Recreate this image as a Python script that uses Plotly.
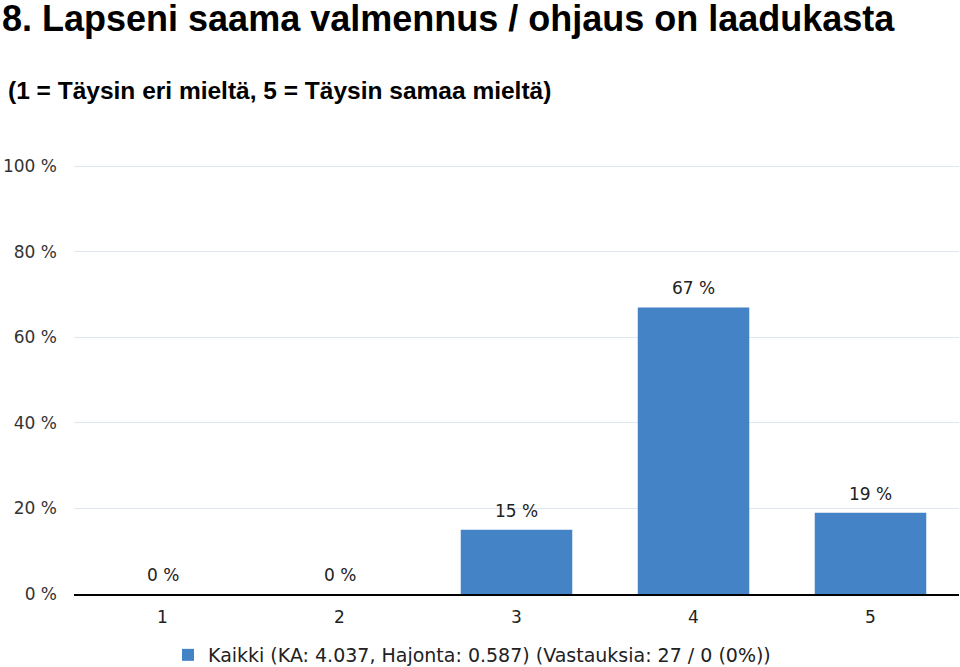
import plotly.graph_objects as go

categories = ["1", "2", "3", "4", "5"]
shares = [0, 0, 15, 67, 19]
share_labels = ["0 %", "0 %", "15 %", "67 %", "19 %"]
y_ticks = [0, 20, 40, 60, 80, 100]
y_tick_labels = ["0 %", "20 %", "40 %", "60 %", "80 %", "100 %"]

series_name = "Kaikki (KA: 4.037, Hajonta: 0.587) (Vastauksia: 27 / 0 (0%))"
title = "8. Lapseni saama valmennus / ohjaus on laadukasta"
subtitle = "(1 = Täysin eri mieltä, 5 = Täysin samaa mieltä)"

W, H = 960, 667
M_L, M_R, M_T, M_B = 74, 1, 165, 73
plot_w = W - M_L - M_R
plot_h = H - M_T - M_B

fig = go.Figure(go.Bar(
    x=categories,
    y=shares,
    name=series_name,
    width=0.63,
    marker=dict(color="#4483c5", line=dict(width=0)),
    showlegend=True,
))

# value labels above the bars (category axis -> position by index)
labels = [dict(
    x=i, y=v, text=t,
    xref="x", yref="y",
    yanchor="bottom", yshift=7,
    showarrow=False,
    font=dict(family="DejaVu Sans", size=17, color="#222222"),
) for i, (v, t) in enumerate(zip(shares, share_labels))]

fig.update_layout(
    width=W, height=H,
    margin=dict(l=M_L, r=M_R, t=M_T, b=M_B, autoexpand=False),
    paper_bgcolor="white",
    plot_bgcolor="white",
    font=dict(family="DejaVu Sans", color="#222222"),
    title=dict(
        text=title,
        xref="container", yref="container",
        x=2 / W, y=1 - 18 / H,
        xanchor="left", yanchor="middle",
        font=dict(family="Liberation Sans", size=36, color="#000000", weight="bold"),
    ),
    annotations=[dict(
        text=subtitle,
        xref="paper", yref="paper",
        x=(6 - M_L) / plot_w, y=1 + (M_T - 90) / plot_h,
        xanchor="left", yanchor="middle",
        showarrow=False,
        font=dict(family="Liberation Sans", size=24.5, color="#000000", weight="bold"),
    )] + labels,
    legend=dict(
        orientation="h",
        x=(168 - M_L) / plot_w, y=-(655 - 594) / plot_h,
        xanchor="left", yanchor="middle",
        font=dict(size=19, color="#222222"),
        itemwidth=30,
    ),
)

fig.update_xaxes(
    type="category",
    range=[-0.5, len(categories) - 0.5],
    showline=True, linecolor="#000000", linewidth=1.5,
    ticks="", tickfont=dict(size=17, color="#222222"),
    ticklabelstandoff=7,
    showgrid=False, automargin=False,
)
fig.update_yaxes(
    range=[0, 100.3],
    tickvals=y_ticks, ticktext=y_tick_labels,
    tickfont=dict(size=17, color="#333333"),
    gridcolor="#dfe6ee", gridwidth=1,
    zeroline=False,
    ticklabelstandoff=16,
    automargin=False,
)

fig.write_html(
    "out.html",
    config={"displayModeBar": False},
    post_script="document.body.style.margin='0';",
)
